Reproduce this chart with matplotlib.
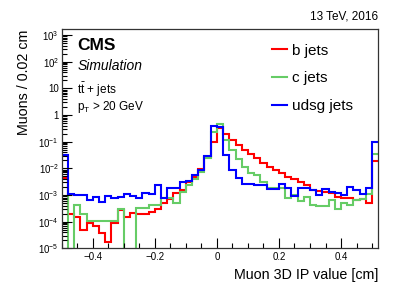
import numpy as np
import matplotlib
matplotlib.use("Agg")
import matplotlib.pyplot as plt
from matplotlib.ticker import FixedLocator, MultipleLocator, LogLocator, NullFormatter, FuncFormatter

plt.rcParams['font.family'] = ['Liberation Sans', 'DejaVu Sans']
plt.rcParams['mathtext.fontset'] = 'custom'
plt.rcParams['mathtext.rm'] = 'Liberation Sans'
plt.rcParams['mathtext.it'] = 'Liberation Sans:italic'
plt.rcParams['mathtext.bf'] = 'Liberation Sans:bold'

# ---- data ----
x_low, x_high, n_bins = -0.5, 0.52, 51
bin_edges = np.linspace(x_low, x_high, n_bins + 1)

b_jets = [4.5e-3, 1.9e-4, 1.5e-4, 5e-5, 9e-5, 6.8e-5, 3.6e-5, 1.7e-5, 9e-5, 2.8e-4,
          1.45e-4, 2.1e-4, 2.0e-4, 1.9e-4, 2.4e-4, 2.9e-4, 5.0e-4, 7.2e-4, 1.2e-3, 1.6e-3,
          3.0e-3, 4.6e-3, 9.5e-3, 2.7e-2, 0.10, 0.33, 0.20, 0.12, 7.5e-2, 4.9e-2,
          3.5e-2, 2.4e-2, 1.6e-2, 1.15e-2, 8.7e-3, 6.5e-3, 4.8e-3, 4.0e-3, 3.2e-3, 2.4e-3,
          1.5e-3, 1.4e-3, 1.3e-3, 1.15e-3, 8.5e-4, 8.0e-4, 7.4e-4, 6.5e-4, 6.8e-4, 5.1e-4,
          1.9e-2]
c_jets = [8e-3, 0, 4.2e-4, 2e-4, 1.05e-4, 1.05e-4, 1.05e-4, 1.05e-4, 1.05e-4, 3e-4,
          0, 0, 3.2e-4, 3.2e-4, 4.2e-4, 4.2e-4, 8e-4, 8e-4, 4.8e-4, 1.3e-3,
          2.3e-3, 4e-3, 7.4e-3, 2.4e-2, 0.24, 0.48, 0.12, 4.9e-2, 2.2e-2, 1.1e-2,
          6.9e-3, 5.6e-3, 3.2e-3, 1.8e-3, 1.8e-3, 1.9e-3, 7.4e-4, 1.0e-3, 6.0e-4, 8.2e-4,
          4.2e-4, 4.0e-4, 3.8e-4, 6.5e-4, 3.1e-4, 4.8e-4, 4.4e-4, 6.5e-4, 7.0e-4, 1.1e-3,
          3.5e-2]
udsg_jets = [3.2e-2, 1.05e-3, 1.0e-3, 1.0e-3, 6.5e-4, 8.5e-4, 5.5e-4, 9e-4, 7.5e-4, 8.5e-4,
             1.05e-3, 9e-4, 7.4e-4, 1.15e-3, 1.05e-3, 2.3e-3, 8e-4, 1.9e-3, 1.8e-3, 3.1e-3,
             3.3e-3, 5.5e-3, 9e-3, 2.8e-2, 0.38, 0.37, 3.2e-2, 9e-3, 4.2e-3, 2.5e-3,
             2.7e-3, 2.4e-3, 2.4e-3, 1.7e-3, 1.7e-3, 2.5e-3, 1.8e-3, 9e-4, 1.9e-3, 1.9e-3,
             1.5e-3, 1.0e-3, 1.67e-3, 1.3e-3, 1.2e-3, 1.0e-3, 2.0e-3, 1.5e-3, 1.07e-3, 1.8e-3,
             0.1]

series_labels = ['b jets', 'c jets', 'udsg jets']
series_colors = ['#ff0000', '#66cc66', '#0000ff']
x_ticks = [-0.4, -0.2, 0, 0.2, 0.4]
x_tick_labels = ['\u22120.4', '\u22120.2', '0', '0.2', '0.4']

# ---- figure ----
fig = plt.figure(figsize=(4.07, 2.93), dpi=100)
ax = fig.add_axes([0.1516, 0.1526, 0.9295 - 0.1516, 0.900 - 0.1526])

for vals, col, lab in zip([b_jets, c_jets, udsg_jets], series_colors, series_labels):
    v = np.asarray(vals, dtype=float)
    v = np.where(v > 0, v, 1e-9)
    ax.stairs(v, bin_edges, color=col, lw=1.5, baseline=None, label=lab)

ax.set_yscale('log')
ax.set_xlim(x_low, x_high)
ax.set_ylim(1e-5, 10 ** 3.22)

ax.xaxis.set_major_locator(FixedLocator(x_ticks))
ax.set_xticklabels(x_tick_labels)
ax.xaxis.set_minor_locator(MultipleLocator(0.05))
ax.yaxis.set_major_locator(LogLocator(base=10, numticks=20))
ax.yaxis.set_minor_locator(LogLocator(base=10, subs=np.arange(2, 10), numticks=20))
ax.yaxis.set_minor_formatter(NullFormatter())

def yfmt(v, pos):
    e = int(np.round(np.log10(v)))
    if e == 0:
        return '1'
    if e == 1:
        return '10'
    return r'$10^{%d}$' % e
ax.yaxis.set_major_formatter(FuncFormatter(yfmt))

ax.tick_params(which='both', direction='in', top=False, right=False, labelsize=7, colors='black')
ax.tick_params(which='major', length=7, width=0.8)
ax.tick_params(which='minor', length=3.5, width=0.8)
ax.tick_params(axis='x', pad=3)
ax.tick_params(axis='y', pad=2)
for s in ax.spines.values():
    s.set_linewidth(0.9)
    s.set_color('#333333')

ax.set_xlabel('Muon 3D IP value [cm]', fontsize=10.3, loc='right', labelpad=4)
ax.set_ylabel('Muons / 0.02 cm', fontsize=10.3, loc='top', labelpad=5)

fig.text(0.9295, 0.942, '13 TeV, 2016', fontsize=8.5, ha='right', va='center')
fig.text(0.19, 0.846, 'CMS', fontsize=12.5, fontweight='bold', ha='left', va='center')
fig.text(0.19, 0.776, 'Simulation', fontsize=10, fontstyle='italic', ha='left', va='center')
fig.text(0.19, 0.692, r'$\mathrm{t\bar{t}}$ + jets', fontsize=8.5, ha='left', va='center')
fig.text(0.19, 0.634, r'p$_\mathrm{T}$ > 20 GeV', fontsize=8.5, ha='left', va='center')

leg = ax.legend(loc='upper left', bbox_to_anchor=(272 / 407, 1 - 43.5 / 293), bbox_transform=fig.transFigure,
                frameon=False, fontsize=11, handlelength=1.0, handletextpad=0.3,
                labelspacing=0.9, borderpad=0, borderaxespad=0)

fig.savefig('out.png', dpi=100)
